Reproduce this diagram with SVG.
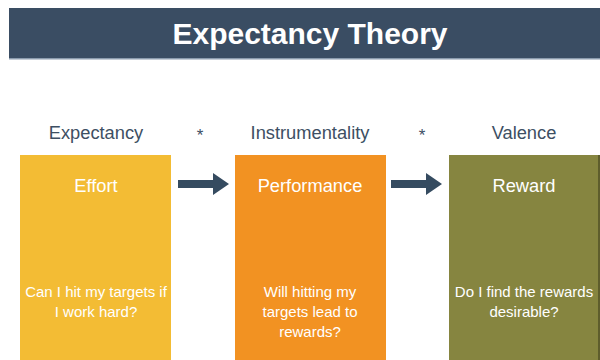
<svg xmlns="http://www.w3.org/2000/svg" width="600" height="360" viewBox="0 0 600 360">
  <style>
    text { font-family: "Liberation Sans", Arial, sans-serif; text-anchor: middle; }
    .title { font-size: 30px; font-weight: bold; fill: #ffffff; }
    .head { font-size: 18.3px; fill: #3d4f63; }
    .star { font-size: 17px; fill: #3d4f63; }
    .name { font-size: 18.3px; fill: #ffffff; }
    .q { font-size: 15px; fill: #ffffff; }
    .arrow { fill: #354b60; }
  </style>
  <rect width="600" height="360" fill="#ffffff"/>

  <!-- title bar -->
  <g id="title">
    <rect x="9" y="8" width="591" height="51" fill="#3a4d63"/>
    <rect x="9" y="58" width="591" height="1.5" fill="#8b9bad"/>
    <text class="title" x="310" y="44">Expectancy Theory</text>
  </g>

  <!-- column headings -->
  <g id="headings">
    <text class="head" x="96" y="139">Expectancy</text>
    <text class="star" x="200" y="141">*</text>
    <text class="head" x="310" y="139">Instrumentality</text>
    <text class="star" x="422" y="141">*</text>
    <text class="head" x="524" y="139">Valence</text>
  </g>

  <g id="effort">
    <rect x="20" y="155" width="151" height="205" fill="#f3bc34"/>
    <text class="name" x="96" y="192">Effort</text>
    <text class="q" x="96" y="297">Can I hit my targets if</text>
    <text class="q" x="96" y="317">I work hard?</text>
  </g>

  <g id="performance">
    <rect x="235" y="155" width="151" height="205" fill="#f29222"/>
    <text class="name" x="310" y="192">Performance</text>
    <text class="q" x="310" y="297">Will hitting my</text>
    <text class="q" x="310" y="317">targets lead to</text>
    <text class="q" x="310" y="337">rewards?</text>
  </g>

  <g id="reward">
    <rect x="449" y="155" width="151" height="205" fill="#868540"/>
    <rect x="598" y="155" width="2" height="205" fill="#5e5d2c"/>
    <text class="name" x="524" y="192">Reward</text>
    <text class="q" x="524" y="297">Do I find the rewards</text>
    <text class="q" x="524" y="317">desirable?</text>
  </g>

  <!-- connectors -->
  <g id="connectors">
    <polygon class="arrow" points="178,180 213,180 213,173 229,184 213,195 213,188 178,188"/>
    <polygon class="arrow" points="391,180 426,180 426,173 442,184 426,195 426,188 391,188"/>
  </g>
</svg>
